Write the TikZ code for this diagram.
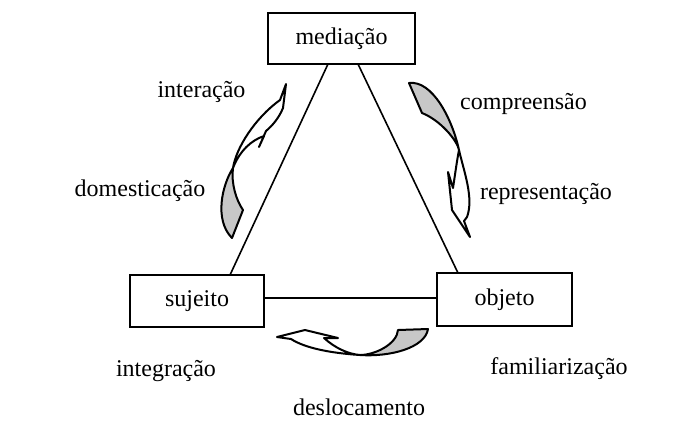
\documentclass[tikz,border=0pt]{standalone}
\usepackage{fontspec}
\setmainfont{Liberation Serif}
\begin{document}
\begin{tikzpicture}[x=0.5pt,y=-0.5pt,
  box/.style={draw,line width=1pt,inner sep=0pt,font=\fontsize{12}{14}\selectfont},
  lbl/.style={anchor=base,inner sep=0pt,font=\fontsize{12}{14}\selectfont},
  edge/.style={line width=0.8pt},
  band/.style={draw,line width=1pt,line join=round,fill=white},
  back/.style={draw,line width=1pt,line join=round,fill=black!22}]
\useasboundingbox (0,0) rectangle (689,435);
% boxes
\node[box,minimum width=73.5pt,minimum height=25.5pt] (med) at (341.5,38.5) {mediação};
\node[box,minimum width=67pt,minimum height=26pt] (suj) at (197,301) {sujeito};
\node[box,minimum width=67.5pt,minimum height=26.5pt] (obj) at (504.5,299.5) {objeto};
% connector end points on the box borders
\coordinate (m1) at (328,64);
\coordinate (m2) at (358,64);
\coordinate (s1) at (230,275);
\coordinate (s2) at (264,298);
\coordinate (o1) at (458,273);
\coordinate (o2) at (437,298);
\draw[edge] (m1) -- (s1);
\draw[edge] (m2) -- (o1);
\draw[edge] (s2) -- (o2);
% left curved arrow
\path[back] (232,238) -- (243,210) .. controls (236,200) and (231,183) .. (233,168)
  .. controls (222,185) and (214,220) .. (232,238) -- cycle;
\path[band] (233,168) .. controls (236,148) and (255,118) .. (280,100) -- (286,84) -- (283,108)
  .. controls (279,118) and (272,126) .. (266,131) -- (259,147) -- (264,136)
  .. controls (252,140) and (240,150) .. (233,168) -- cycle;
% right curved arrow
\path[back] (409,83) .. controls (432,80) and (452,118) .. (459,150)
  .. controls (457,140) and (440,120) .. (422,113) -- cycle;
\path[band] (459,150) .. controls (464,172) and (474,198) .. (467,217) -- (464,221) -- (470,237)
  -- (452,210) -- (448,172) -- (453,188) .. controls (455,175) and (457,160) .. (459,150) -- cycle;
% bottom curved arrow
\path[back] (428,329) .. controls (425,348) and (390,357) .. (360,355)
  .. controls (375,355) and (397,344) .. (398,330) -- cycle;
\path[band] (360,355) .. controls (330,353) and (305,348) .. (291,339) -- (277,337) -- (305,330)
  -- (338,338) -- (324,338) .. controls (335,348) and (348,354) .. (360,355) -- cycle;
% labels
\node[lbl] (l1) at (201.5,97) {interação};
\node[lbl] (l2) at (140,196) {domesticação};
\node[lbl] (l3) at (523.5,109) {compreensão};
\node[lbl] (l4) at (546,199) {representação};
\node[lbl] (l5) at (166,376) {integração};
\node[lbl] (l6) at (559,374) {familiarização};
\node[lbl] (l7) at (359,415) {deslocamento};
\end{tikzpicture}
\end{document}
